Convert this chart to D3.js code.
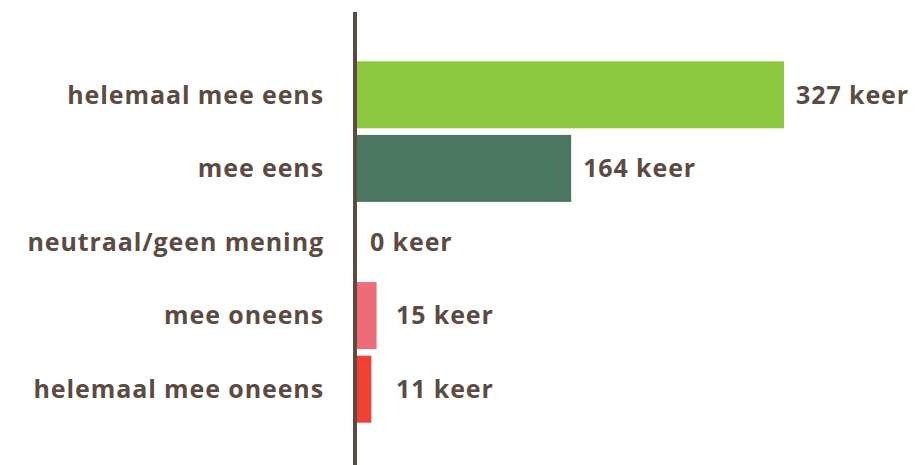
<!DOCTYPE html>
<html>
<head>
<meta charset="utf-8">
<script src="https://cdn.jsdelivr.net/npm/d3@7/dist/d3.min.js"></script>
<style>
  body { margin: 0; background: #fff; }
  .lbl { font-family: "Open Sans", sans-serif; font-weight: 700; fill: #5c4b43; letter-spacing: 0.9px; }
</style>
</head>
<body>
<svg id="chart" width="916" height="465"></svg>
<script>
// answers and counts, top to bottom
const categories = ["helemaal mee eens", "mee eens", "neutraal/geen mening", "mee oneens", "helemaal mee oneens"];
const counts = [327, 164, 0, 15, 11];
const colors = ["#8dc63f", "#4b7762", "#9e9e9e", "#ee6b78", "#ef4136"];

const W = 916, H = 465;
const margin = {top: 58, right: 0, bottom: 39, left: 357};
const textColor = "#5c4b43";

const svg = d3.select("#chart");

const x = d3.scaleLinear()
  .domain([0, 327])
  .range([margin.left, 784]);

const y = d3.scaleBand()
  .domain(categories)
  .range([margin.top, H - margin.bottom])
  .paddingInner(0.09)
  .paddingOuter(0.045);

// bars
svg.selectAll("rect.bar")
  .data(categories)
  .enter().append("rect")
  .attr("class", "bar")
  .attr("x", x(0))
  .attr("y", d => y(d))
  .attr("width", (d, i) => x(counts[i]) - x(0))
  .attr("height", y.bandwidth())
  .attr("fill", (d, i) => colors[i]);

// axis line on the left of the bars
svg.append("line")
  .attr("x1", x(0) - 2).attr("x2", x(0) - 2)
  .attr("y1", 12).attr("y2", H)
  .attr("stroke", textColor)
  .attr("stroke-width", 4);

// category labels
svg.selectAll("text.cat")
  .data(categories)
  .enter().append("text")
  .attr("class", "lbl cat")
  .attr("x", x(0) - 33)
  .attr("y", d => y(d) + y.bandwidth() / 2)
  .attr("dy", "0.35em")
  .attr("text-anchor", "end")
  .style("font-size", "25px")
  .text(d => d);

// value labels, small bars get a bit more room
svg.selectAll("text.val")
  .data(categories)
  .enter().append("text")
  .attr("class", "lbl val")
  .attr("x", (d, i) => {
    const v = counts[i];
    if (v === 0) return x(0) + 13;
    return Math.max(x(v), x(0) + 27) + 12;
  })
  .attr("y", d => y(d) + y.bandwidth() / 2)
  .attr("dy", "0.35em")
  .style("font-size", "25px")
  .text((d, i) => counts[i] + " keer");
</script>
</body>
</html>
